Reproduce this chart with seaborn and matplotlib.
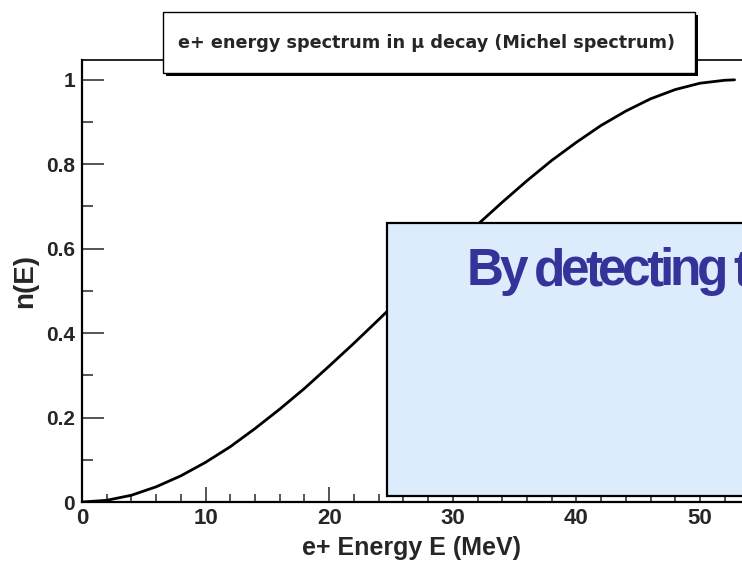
import matplotlib
matplotlib.use("Agg")
import matplotlib.pyplot as plt
import seaborn as sns
import pandas as pd
from matplotlib.patches import Rectangle
from matplotlib.ticker import MultipleLocator

# values (positron energy in MeV vs normalised n(E))
energy = [0, 2, 4, 6, 8, 10, 12, 14, 16, 18, 20, 22, 24, 26,
          28, 30, 32, 34, 36, 38, 40, 42, 44, 46, 48, 50, 52, 52.8]
n_e = [0.0, 0.004, 0.016, 0.036, 0.062, 0.094, 0.131, 0.174, 0.220, 0.269,
       0.322, 0.376, 0.432, 0.489, 0.545, 0.602, 0.657, 0.710, 0.761, 0.809,
       0.852, 0.892, 0.926, 0.955, 0.977, 0.992, 0.999, 1.0]

x_ticks = [0, 10, 20, 30, 40, 50]
x_tick_labels = ["0", "10", "20", "30", "40", "50"]
y_ticks = [0, 0.2, 0.4, 0.6, 0.8, 1.0]
y_tick_labels = ["0", "0.2", "0.4", "0.6", "0.8", "1"]

title_text = "e+ energy spectrum in \u03bc decay (Michel spectrum)"
x_label = "e+ Energy E (MeV)"
y_label = "n(E)"
overlay_text = "By detecting the"

W, H = 742, 565


def fx(x):
    return x / W


def fy(y):
    return 1 - y / H


if __name__ == "__main__":
    sns.set_style("ticks")
    plt.rcParams["font.family"] = ["Liberation Sans", "DejaVu Sans"]

    df = pd.DataFrame({"E": energy, "n": n_e})

    fig = plt.figure(figsize=(W / 100, H / 100), dpi=100)
    ax = fig.add_axes([fx(82), fy(502), fx(742) - fx(82), fy(60) - fy(502)])

    sns.lineplot(data=df, x="E", y="n", color="black", linewidth=2.0, ax=ax)

    ax.set_xlim(0, 53.4)
    ax.set_ylim(0, 1.047)
    ax.set_xticks(x_ticks)
    ax.set_xticklabels(x_tick_labels, fontsize=16, fontweight="bold")
    ax.set_yticks(y_ticks)
    ax.set_yticklabels(y_tick_labels, fontsize=15, fontweight="bold")
    ax.xaxis.set_minor_locator(MultipleLocator(2))
    ax.yaxis.set_minor_locator(MultipleLocator(0.1))
    ax.tick_params(axis="x", which="major", direction="in", length=11, width=1.1, pad=4)
    ax.tick_params(axis="x", which="minor", direction="in", length=5.5, width=1.1)
    ax.tick_params(axis="y", which="major", direction="in", length=16, width=1.1, pad=5)
    ax.tick_params(axis="y", which="minor", direction="in", length=8, width=1.1)

    for side in ["left", "bottom", "top"]:
        ax.spines[side].set_visible(True)
        ax.spines[side].set_color("black")
    ax.spines["left"].set_linewidth(1.6)
    ax.spines["bottom"].set_linewidth(1.6)
    ax.spines["top"].set_linewidth(1.2)
    ax.spines["right"].set_visible(False)

    ax.set_xlabel(x_label, fontsize=18, fontweight="bold", labelpad=5)
    ax.set_ylabel(y_label, fontsize=20, fontweight="bold", labelpad=6)

    # title pave with shadow
    fig.add_artist(Rectangle((fx(166), fy(76)), fx(698) - fx(166), fy(15) - fy(76),
                             facecolor="black", edgecolor="none", zorder=5))
    fig.add_artist(Rectangle((fx(163), fy(73)), fx(695) - fx(163), fy(12) - fy(73),
                             facecolor="white", edgecolor="black", linewidth=1.0, zorder=6))
    fig.text(fx(427), fy(43), title_text, ha="center", va="center", fontsize=12.7,
             fontweight="bold", family="DejaVu Sans", zorder=7)

    # overlaid light blue box
    fig.add_artist(Rectangle((fx(387), fy(496)), fx(800) - fx(387), fy(223) - fy(496),
                             facecolor="#DDECFD", edgecolor="black", linewidth=1.6, zorder=5))

    # headline in the box is set with very tight letter spacing
    style = dict(ha="left", va="baseline", fontsize=37, fontweight="bold",
                 color="#333399", family="Liberation Sans", zorder=7)
    renderer = fig.canvas.get_renderer()
    widths = []
    for ch in overlay_text:
        if ch == " ":
            widths.append(0.278 * 37 * 100 / 72)
            continue
        t = fig.text(0, 0, ch, **style)
        widths.append(t.get_window_extent(renderer).width)
        t.remove()
    n_first = len("By detecting")
    tracking = (261 - sum(widths[:n_first])) / (n_first - 1)
    x = 467
    for ch, w in zip(overlay_text, widths):
        if ch != " ":
            fig.text(fx(x), fy(285), ch, **style)
        x += w + tracking

    fig.savefig("out.png", dpi=100)
